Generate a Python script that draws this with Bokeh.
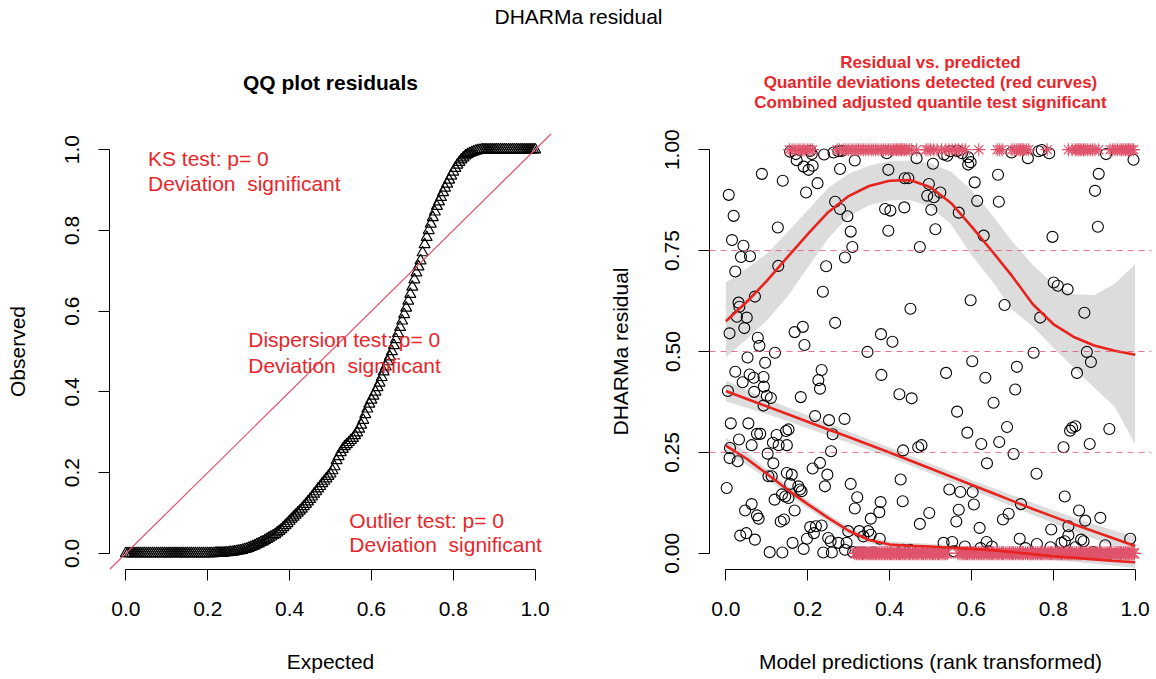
from bokeh.plotting import figure
from bokeh.models import (Range1d, FixedTicker, PrintfTickFormatter, Span, Label, Slope)
from bokeh.layouts import row, column
from bokeh.embed import file_html
from bokeh.resources import INLINE

FONT = "Liberation Sans"
TXT_RED = "#E8262B"
LINE_RED = "#E8231E"
PINK = "#DF536B"
BAND = "#DCDCDC"

# ---------------- data: QQ plot ----------------
qq_expected = [
    0.000, 0.005, 0.010, 0.015, 0.020, 0.025, 0.030, 0.035, 0.040, 0.045,
    0.050, 0.055, 0.060, 0.065, 0.070, 0.075, 0.080, 0.085, 0.090, 0.095,
    0.100, 0.105, 0.110, 0.115, 0.120, 0.125, 0.130, 0.135, 0.140, 0.145,
    0.150, 0.155, 0.160, 0.165, 0.170, 0.175, 0.180, 0.185, 0.190, 0.195,
    0.200, 0.205, 0.210, 0.215, 0.220, 0.225, 0.230, 0.235, 0.240, 0.245,
    0.250, 0.255, 0.260, 0.265, 0.270, 0.275, 0.280, 0.285, 0.290, 0.295,
    0.300, 0.305, 0.310, 0.315, 0.320, 0.325, 0.330, 0.335, 0.340, 0.345,
    0.350, 0.355, 0.360, 0.365, 0.370, 0.375, 0.380, 0.385, 0.390, 0.395,
    0.400, 0.405, 0.410, 0.415, 0.420, 0.425, 0.430, 0.435, 0.440, 0.445,
    0.450, 0.455, 0.460, 0.465, 0.470, 0.475, 0.480, 0.485, 0.490, 0.495,
    0.500, 0.505, 0.510, 0.515, 0.520, 0.525, 0.530, 0.535, 0.540, 0.545,
    0.550, 0.555, 0.560, 0.565, 0.570, 0.575, 0.580, 0.585, 0.590, 0.595,
    0.600, 0.605, 0.610, 0.615, 0.620, 0.625, 0.630, 0.635, 0.640, 0.645,
    0.650, 0.655, 0.660, 0.665, 0.670, 0.675, 0.680, 0.685, 0.690, 0.695,
    0.700, 0.705, 0.710, 0.715, 0.720, 0.725, 0.730, 0.735, 0.740, 0.745,
    0.750, 0.755, 0.760, 0.765, 0.770, 0.775, 0.780, 0.785, 0.790, 0.795,
    0.800, 0.805, 0.810, 0.815, 0.820, 0.825, 0.830, 0.835, 0.840, 0.845,
    0.850, 0.855, 0.860, 0.865, 0.870, 0.875, 0.880, 0.885, 0.890, 0.895,
    0.900, 0.905, 0.910, 0.915, 0.920, 0.925, 0.930, 0.935, 0.940, 0.945,
    0.950, 0.955, 0.960, 0.965, 0.970, 0.975, 0.980, 0.985, 0.990, 0.995, 1.000]
qq_observed = [
    0.000, 0.000, 0.000, 0.000, 0.000, 0.000, 0.000, 0.000, 0.000, 0.000,
    0.000, 0.000, 0.000, 0.000, 0.000, 0.000, 0.000, 0.000, 0.000, 0.000,
    0.000, 0.000, 0.000, 0.000, 0.000, 0.000, 0.000, 0.000, 0.000, 0.000,
    0.000, 0.000, 0.000, 0.000, 0.000, 0.000, 0.000, 0.000, 0.000, 0.000,
    0.000, 0.000, 0.000, 0.000, 0.001, 0.001, 0.001, 0.001, 0.001, 0.002,
    0.002, 0.003, 0.003, 0.004, 0.005, 0.006, 0.007, 0.008, 0.010, 0.011,
    0.013, 0.015, 0.017, 0.019, 0.022, 0.024, 0.027, 0.029, 0.032, 0.035,
    0.038, 0.041, 0.044, 0.047, 0.051, 0.055, 0.059, 0.064, 0.069, 0.074,
    0.080, 0.085, 0.090, 0.095, 0.100, 0.105, 0.110, 0.116, 0.122, 0.128,
    0.134, 0.140, 0.147, 0.153, 0.160, 0.166, 0.173, 0.179, 0.185, 0.191,
    0.197, 0.205, 0.215, 0.230, 0.240, 0.250, 0.258, 0.265, 0.270, 0.275,
    0.280, 0.285, 0.292, 0.299, 0.308, 0.318, 0.330, 0.344, 0.358, 0.370,
    0.380, 0.390, 0.400, 0.411, 0.422, 0.436, 0.450, 0.462, 0.475, 0.487,
    0.500, 0.515, 0.530, 0.545, 0.560, 0.576, 0.592, 0.608, 0.625, 0.642,
    0.660, 0.678, 0.695, 0.710, 0.725, 0.745, 0.765, 0.783, 0.800, 0.816,
    0.832, 0.846, 0.860, 0.871, 0.882, 0.894, 0.905, 0.915, 0.925, 0.935,
    0.945, 0.954, 0.962, 0.969, 0.975, 0.980, 0.985, 0.988, 0.991, 0.993,
    0.995, 0.997, 0.998, 0.999, 1.000, 1.000, 1.000, 1.000, 1.000, 1.000,
    1.000, 1.000, 1.000, 1.000, 1.000, 1.000, 1.000, 1.000, 1.000, 1.000,
    1.000, 1.000, 1.000, 1.000, 1.000, 1.000, 1.000, 1.000, 1.000, 1.000, 1.000]

qq_ticks = [0.0, 0.2, 0.4, 0.6, 0.8, 1.0]
res_y_ticks = [0.0, 0.25, 0.5, 0.75, 1.0]
ref_quantiles = [0.25, 0.5, 0.75]

NB = "\u00a0"
qq_texts = ["KS test: p= 0", "Deviation" + NB + " significant",
            "Dispersion test: p= 0", "Deviation" + NB + " significant",
            "Outlier test: p= 0", "Deviation" + NB + " significant"]
qq_text_x = [0.054, 0.054, 0.299, 0.299, 0.546, 0.546]
qq_text_y = [0.978, 0.915, 0.530, 0.466, 0.082, 0.021]

# ---------------- data: residual vs predicted ----------------
resid_pred = [
    0.157, 0.171, 0.206, 0.210, 0.173, 0.190, 0.202, 0.212, 0.240, 0.263, 0.275, 0.283,
    0.315, 0.279, 0.088, 0.139, 0.196, 0.224, 0.397, 0.393, 0.466, 0.437, 0.446, 0.007,
    0.019, 0.127, 0.267, 0.279, 0.297, 0.305, 0.309, 0.291, 0.245, 0.128, 0.023, 0.037,
    0.059, 0.043, 0.015, 0.389, 0.402, 0.436, 0.397, 0.474,
    0.506, 0.533, 0.549, 0.565, 0.577, 0.592, 0.598, 0.592, 0.541, 0.496, 0.524, 0.492,
    0.508, 0.502, 0.512, 0.569, 0.608, 0.614, 0.665, 0.667, 0.630, 0.698, 0.738, 0.764,
    0.772, 0.790, 0.798, 0.911, 0.902, 0.909, 0.929, 0.996,
    0.031, 0.033, 0.071, 0.027, 0.051, 0.045, 0.009, 0.078, 0.082, 0.120, 0.053, 0.096,
    0.023, 0.058, 0.068, 0.041, 0.092, 0.093, 0.069, 0.005, 0.100, 0.110, 0.092, 0.012,
    0.055, 0.168, 0.188, 0.192, 0.237, 0.267, 0.234, 0.226, 0.230, 0.183, 0.218, 0.252,
    0.290, 0.346, 0.379, 0.407, 0.380, 0.451, 0.424, 0.454,
    0.801, 0.811, 0.835, 0.598, 0.681, 0.768, 0.876, 0.752, 0.882, 0.892, 0.602, 0.538,
    0.634, 0.711, 0.707, 0.858, 0.654, 0.565,
    0.076, 0.084, 0.032, 0.063, 0.124, 0.147, 0.153, 0.115, 0.129, 0.149, 0.102, 0.116,
    0.010, 0.009, 0.029, 0.002, 0.104, 0.112, 0.149, 0.161, 0.157, 0.177, 0.181, 0.185,
    0.137, 0.145, 0.153, 0.119, 0.168, 0.063, 0.047, 0.076, 0.080, 0.134, 0.142, 0.035,
    0.050, 0.071, 0.107, 0.138, 0.163, 0.190, 0.198, 0.206, 0.220, 0.234, 0.215, 0.212,
    0.230, 0.248, 0.242, 0.261, 0.257, 0.250, 0.256, 0.238, 0.259, 0.275, 0.295, 0.291,
    0.311, 0.299, 0.305, 0.321, 0.315, 0.326, 0.336, 0.348, 0.354, 0.354, 0.375, 0.378,
    0.376, 0.324, 0.336, 0.360, 0.427, 0.432, 0.433, 0.470, 0.478, 0.474, 0.497, 0.433,
    0.450,
    0.590, 0.687, 0.624, 0.668, 0.703, 0.638, 0.759, 0.841, 0.846, 0.854, 0.825, 0.889,
    0.937, 0.546, 0.573, 0.603, 0.606, 0.569, 0.563, 0.620, 0.677, 0.691, 0.721, 0.828,
    0.863, 0.878, 0.915, 0.795, 0.837, 0.837, 0.718, 0.760, 0.532, 0.553, 0.557, 0.584,
    0.622, 0.637, 0.650, 0.642, 0.732, 0.793, 0.820, 0.828, 0.854, 0.868, 0.874, 0.898,
    0.927, 0.988]
resid_value = [
    0.995, 0.989, 0.997, 0.989, 0.974, 0.958, 0.950, 0.960, 0.988, 0.993, 0.996, 0.997,
    0.973, 0.952, 0.940, 0.923, 0.894, 0.917, 0.950, 0.991, 0.979, 0.929, 0.929, 0.888,
    0.836, 0.807, 0.871, 0.853, 0.835, 0.797, 0.759, 0.733, 0.711, 0.712, 0.698, 0.734,
    0.736, 0.762, 0.776, 0.853, 0.849, 0.857, 0.799, 0.759,
    0.965, 0.988, 0.996, 0.997, 0.991, 0.981, 0.969, 0.963, 0.985, 0.915, 0.894, 0.886,
    0.882, 0.851, 0.803, 0.844, 0.919, 0.873, 0.938, 0.871, 0.787, 0.993, 0.979, 0.996,
    0.999, 0.991, 0.784, 0.940, 0.898, 0.809, 0.989, 0.975,
    0.621, 0.611, 0.636, 0.586, 0.584, 0.558, 0.545, 0.534, 0.514, 0.497, 0.485, 0.472,
    0.450, 0.443, 0.435, 0.424, 0.437, 0.413, 0.400, 0.402, 0.390, 0.385, 0.366, 0.322,
    0.322, 0.548, 0.561, 0.516, 0.648, 0.571, 0.454, 0.429, 0.408, 0.387, 0.340, 0.330,
    0.333, 0.499, 0.543, 0.524, 0.442, 0.606, 0.394, 0.384,
    0.671, 0.663, 0.654, 0.627, 0.615, 0.584, 0.596, 0.497, 0.499, 0.474, 0.476, 0.447,
    0.435, 0.462, 0.406, 0.447, 0.373, 0.351,
    0.296, 0.296, 0.282, 0.268, 0.293, 0.303, 0.307, 0.274, 0.268, 0.268, 0.247, 0.223,
    0.261, 0.236, 0.228, 0.162, 0.191, 0.191, 0.199, 0.195, 0.172, 0.166, 0.158, 0.154,
    0.146, 0.141, 0.137, 0.133, 0.106, 0.122, 0.106, 0.094, 0.086, 0.079, 0.084, 0.044,
    0.050, 0.034, 0.003, 0.002, 0.026, 0.011, 0.036, 0.065, 0.067, 0.069, 0.050, 0.210,
    0.224, 0.195, 0.166, 0.295, 0.253, 0.038, 0.030, 0.002, 0.002, 0.026, 0.026, 0.009,
    0.003, 0.055, 0.172, 0.139, 0.111, 0.055, 0.042, 0.055, 0.046, 0.086, 0.102, 0.127,
    0.036, 0.002, 0.002, 0.002, 0.183, 0.129, 0.255, 0.263, 0.268, 0.073, 0.100, 0.009,
    0.009,
    0.299, 0.313, 0.271, 0.276, 0.246, 0.223, 0.197, 0.304, 0.311, 0.315, 0.263, 0.271,
    0.308, 0.158, 0.152, 0.152, 0.121, 0.108, 0.079, 0.063, 0.084, 0.098, 0.122, 0.141,
    0.106, 0.081, 0.088, 0.059, 0.067, 0.045, 0.036, 0.023, 0.026, 0.028, 0.005, 0.017,
    0.013, 0.028, 0.017, 0.005, 0.013, 0.015, 0.026, 0.030, 0.015, 0.034, 0.030, 0.003,
    0.020, 0.036]

# outliers (residual exactly 1 or 0), shown as asterisks
outlier_hi_pred = [0.155, 0.162, 0.169, 0.176, 0.181, 0.188, 0.193, 0.200, 0.206, 0.212,
                   0.272, 0.278, 0.287, 0.293, 0.299, 0.306, 0.311, 0.318, 0.324, 0.330,
                   0.336, 0.342, 0.348, 0.355, 0.360, 0.366, 0.372, 0.379, 0.385, 0.391,
                   0.397, 0.403, 0.409, 0.413, 0.417, 0.421, 0.425, 0.429, 0.433, 0.437,
                   0.441, 0.448, 0.454, 0.466, 0.489, 0.494,
                   0.500, 0.508, 0.516, 0.527, 0.537, 0.545, 0.553, 0.561, 0.569, 0.577,
                   0.585, 0.618,
                   0.663, 0.669, 0.675, 0.699, 0.705, 0.711, 0.716, 0.720, 0.724, 0.728,
                   0.734, 0.740, 0.785,
                   0.837, 0.846, 0.854, 0.858, 0.862, 0.866, 0.870, 0.874, 0.878, 0.884,
                   0.890, 0.896, 0.902, 0.911,
                   0.939, 0.945, 0.951, 0.957, 0.963, 0.967, 0.971, 0.976, 0.980, 0.984,
                   0.988, 0.992, 0.996]
outlier_lo_pred = [0.315, 0.319, 0.323, 0.327, 0.331, 0.334, 0.337, 0.342, 0.346, 0.350,
                   0.353, 0.357, 0.361, 0.365, 0.368, 0.372, 0.376, 0.380, 0.384, 0.388,
                   0.391, 0.395, 0.399, 0.402, 0.405, 0.409, 0.413, 0.417, 0.421, 0.424,
                   0.427, 0.432, 0.436, 0.440, 0.445, 0.448, 0.451, 0.456, 0.460, 0.464,
                   0.468, 0.472, 0.477, 0.480, 0.483, 0.488, 0.492, 0.497, 0.501, 0.505,
                   0.508, 0.512, 0.517, 0.520, 0.523, 0.528, 0.533, 0.537, 0.541,
                   0.567, 0.572, 0.577, 0.581, 0.585, 0.588, 0.591, 0.596, 0.601, 0.604,
                   0.607, 0.612, 0.617, 0.621, 0.625, 0.628, 0.631, 0.636, 0.641, 0.645,
                   0.649, 0.652, 0.655, 0.660, 0.664, 0.668, 0.673, 0.676, 0.679, 0.684,
                   0.689, 0.693, 0.697, 0.700, 0.703, 0.708, 0.713, 0.717, 0.721, 0.724,
                   0.727, 0.732, 0.737, 0.741, 0.745, 0.748, 0.751, 0.756, 0.761, 0.765,
                   0.769, 0.772, 0.775, 0.780, 0.785, 0.789, 0.793, 0.796, 0.799, 0.804,
                   0.809, 0.813, 0.817, 0.820, 0.823, 0.828, 0.833, 0.837, 0.841, 0.844,
                   0.847, 0.852, 0.857, 0.861, 0.865, 0.868, 0.871, 0.876, 0.881, 0.885,
                   0.889, 0.892, 0.895, 0.900, 0.905, 0.909, 0.913, 0.916, 0.919, 0.924,
                   0.929, 0.933, 0.937, 0.940, 0.943, 0.948, 0.953, 0.957, 0.961, 0.964,
                   0.967, 0.972, 0.976, 0.980, 0.983, 0.987, 0.991, 0.995, 0.998]

# quantile regression curves and their confidence bands
curve_x = [0.00, 0.05, 0.10, 0.15, 0.20, 0.25, 0.30, 0.35, 0.40, 0.45, 0.50,
           0.55, 0.60, 0.65, 0.70, 0.75, 0.80, 0.85, 0.90, 0.95, 1.00]
q75 = [0.575, 0.622, 0.675, 0.733, 0.791, 0.845, 0.885, 0.910, 0.923, 0.925, 0.907,
       0.868, 0.810, 0.749, 0.686, 0.617, 0.568, 0.536, 0.515, 0.502, 0.492]
q75_hi = [0.671, 0.705, 0.742, 0.795, 0.850, 0.905, 0.940, 0.960, 0.972, 0.973, 0.966,
          0.945, 0.900, 0.839, 0.772, 0.714, 0.667, 0.642, 0.640, 0.668, 0.716]
q75_lo = [0.485, 0.530, 0.577, 0.635, 0.708, 0.780, 0.835, 0.862, 0.874, 0.875, 0.858,
          0.815, 0.739, 0.675, 0.603, 0.562, 0.510, 0.460, 0.410, 0.363, 0.270]
q50 = [0.402, 0.383, 0.364, 0.345, 0.326, 0.307, 0.288, 0.269, 0.250, 0.230, 0.210,
       0.190, 0.170, 0.150, 0.130, 0.110, 0.091, 0.072, 0.054, 0.036, 0.018]
q50_hi = [0.428, 0.405, 0.383, 0.362, 0.342, 0.322, 0.302, 0.282, 0.262, 0.242, 0.222,
          0.202, 0.182, 0.163, 0.144, 0.125, 0.107, 0.089, 0.072, 0.056, 0.042]
q50_lo = [0.376, 0.361, 0.345, 0.328, 0.310, 0.292, 0.274, 0.256, 0.238, 0.218, 0.198,
          0.178, 0.158, 0.137, 0.116, 0.095, 0.075, 0.055, 0.036, 0.016, -0.006]
q25 = [0.267, 0.235, 0.197, 0.158, 0.122, 0.088, 0.056, 0.033, 0.022, 0.019, 0.017,
       0.014, 0.011, 0.008, 0.003, -0.002, -0.007, -0.011, -0.015, -0.019, -0.022]
q25_hi = [0.287, 0.250, 0.209, 0.169, 0.132, 0.097, 0.065, 0.041, 0.030, 0.026, 0.024,
          0.021, 0.018, 0.015, 0.011, 0.007, 0.003, -0.001, -0.004, -0.007, -0.008]
q25_lo = [0.247, 0.220, 0.185, 0.147, 0.112, 0.079, 0.047, 0.025, 0.014, 0.012, 0.010,
          0.007, 0.004, 0.001, -0.005, -0.011, -0.017, -0.021, -0.026, -0.031, -0.036]

main_title = "DHARMa residual"
qq_title = "QQ plot residuals"
res_titles = ["Residual vs. predicted",
              "Quantile deviations detected (red curves)",
              "Combined adjusted quantile test significant"]

# ---------------- layout constants (pixels) ----------------
PAGE_W = 1156
HEAD_H = 120
FIG_H = 679 - HEAD_H
FRAME_W = 442
FRAME_H = 436
BORDER_TOP = 133 - HEAD_H
BORDER_BOTTOM = FIG_H - BORDER_TOP - FRAME_H
L1, R1 = 109, 27          # left panel borders
L2, R2 = 131, 5           # right panel borders
W1 = L1 + FRAME_W + R1
W2 = L2 + FRAME_W + R2


def style_axes(p, xticks, yticks, xfmt, yfmt, xlabel, ylabel, ylabel_standoff):
    p.xaxis.ticker = FixedTicker(ticks=xticks)
    p.yaxis.ticker = FixedTicker(ticks=yticks)
    p.xaxis.formatter = PrintfTickFormatter(format=xfmt)
    p.yaxis.formatter = PrintfTickFormatter(format=yfmt)
    for ax in (p.xaxis[0], p.yaxis[0]):
        ax.bounds = (0, 1)
        ax.axis_line_color = "black"
        ax.axis_line_width = 1
        ax.major_tick_line_color = "black"
        ax.major_tick_out = 11
        ax.major_tick_in = 0
        ax.minor_tick_line_color = None
        ax.major_label_text_font = FONT
        ax.major_label_text_font_size = "21px"
        ax.major_label_text_color = "black"
        ax.axis_label_text_font = FONT
        ax.axis_label_text_font_size = "21px"
        ax.axis_label_text_font_style = "normal"
        ax.axis_label_text_color = "black"
    p.xaxis.axis_label = xlabel
    p.yaxis.axis_label = ylabel
    p.xaxis.major_label_standoff = 21
    p.xaxis.axis_label_standoff = 31
    p.yaxis.major_label_orientation = "vertical"
    p.yaxis.major_label_standoff = 19
    p.yaxis.axis_label_standoff = ylabel_standoff
    p.xgrid.grid_line_color = None
    p.ygrid.grid_line_color = None
    p.outline_line_color = None


def make_fig(border_left, border_right):
    p = figure(width=border_left + FRAME_W + border_right, height=FIG_H,
               x_range=Range1d(-0.04, 1.04), y_range=Range1d(-0.04, 1.04),
               output_backend="svg", toolbar_location=None, title_location=None,
               min_border_left=border_left, min_border_right=border_right,
               min_border_top=BORDER_TOP, min_border_bottom=BORDER_BOTTOM)
    p.background_fill_color = "white"
    p.border_fill_color = "white"
    return p


# ---------------- header with all titles (pixel coordinates, y downwards) ----------------
head = figure(width=PAGE_W, height=HEAD_H, x_range=Range1d(0, PAGE_W),
              y_range=Range1d(HEAD_H, 0), output_backend="svg", toolbar_location=None,
              title_location=None, x_axis_location=None, y_axis_location=None,
              min_border=0)
head.xgrid.grid_line_color = None
head.ygrid.grid_line_color = None
head.outline_line_color = None
head.background_fill_color = "white"
head.border_fill_color = "white"
head.add_layout(Label(x=PAGE_W / 2, y=16, text=main_title, text_font=FONT,
                      text_font_size="21px", text_color="black",
                      text_align="center", text_baseline="middle"))
head.add_layout(Label(x=L1 + FRAME_W / 2, y=82, text=qq_title, text_font=FONT,
                      text_font_size="21px", text_font_style="bold", text_color="black",
                      text_align="center", text_baseline="middle"))
for i, line in enumerate(res_titles):
    head.add_layout(Label(x=W1 + L2 + FRAME_W / 2, y=62 + 20 * i, text=line,
                          text_font=FONT, text_font_size="17px", text_font_style="bold",
                          text_color=TXT_RED, text_align="center", text_baseline="middle"))

# ---------------- left: QQ plot ----------------
p1 = make_fig(L1, R1)
style_axes(p1, qq_ticks, qq_ticks, "%.1f", "%.1f", "Expected", "Observed", 34)
p1.add_layout(Slope(gradient=1, y_intercept=0, line_color=PINK, line_width=1.2))
p1.scatter(qq_expected, qq_observed, marker="triangle", size=11,
           fill_color=None, line_color="black", line_width=1.2)
for txt, tx, ty in zip(qq_texts, qq_text_x, qq_text_y):
    p1.add_layout(Label(x=tx, y=ty, text=txt, text_font=FONT, text_font_size="21px",
                        text_color=TXT_RED, text_baseline="middle", text_align="left"))

# ---------------- right: residual vs predicted ----------------
p2 = make_fig(L2, R2)
style_axes(p2, qq_ticks, res_y_ticks, "%.1f", "%.2f",
           "Model predictions (rank transformed)", "DHARMa residual", 31)
for lo, hi in ((q75_lo, q75_hi), (q50_lo, q50_hi), (q25_lo, q25_hi)):
    p2.varea(x=curve_x, y1=lo, y2=hi, fill_color=BAND)
for q in ref_quantiles:
    p2.add_layout(Span(location=q, dimension="width", line_color=PINK,
                       line_dash="6 5", line_width=1, line_alpha=0.8))
p2.scatter(resid_pred, resid_value, marker="circle", size=11, fill_color=None,
           line_color="black", line_width=1.1)
p2.scatter(outlier_hi_pred, [1.0] * len(outlier_hi_pred), marker="asterisk", size=13,
           line_color=PINK, line_width=1.1)
p2.scatter(outlier_lo_pred, [0.0] * len(outlier_lo_pred), marker="asterisk", size=14,
           line_color=PINK, line_width=1.2)
for q in (q75, q50, q25):
    p2.line(curve_x, q, line_color=LINE_RED, line_width=2.6)

layout = column(head, row(p1, p2, spacing=0), spacing=0)
open("out.html", "w").write(file_html(layout, INLINE))
